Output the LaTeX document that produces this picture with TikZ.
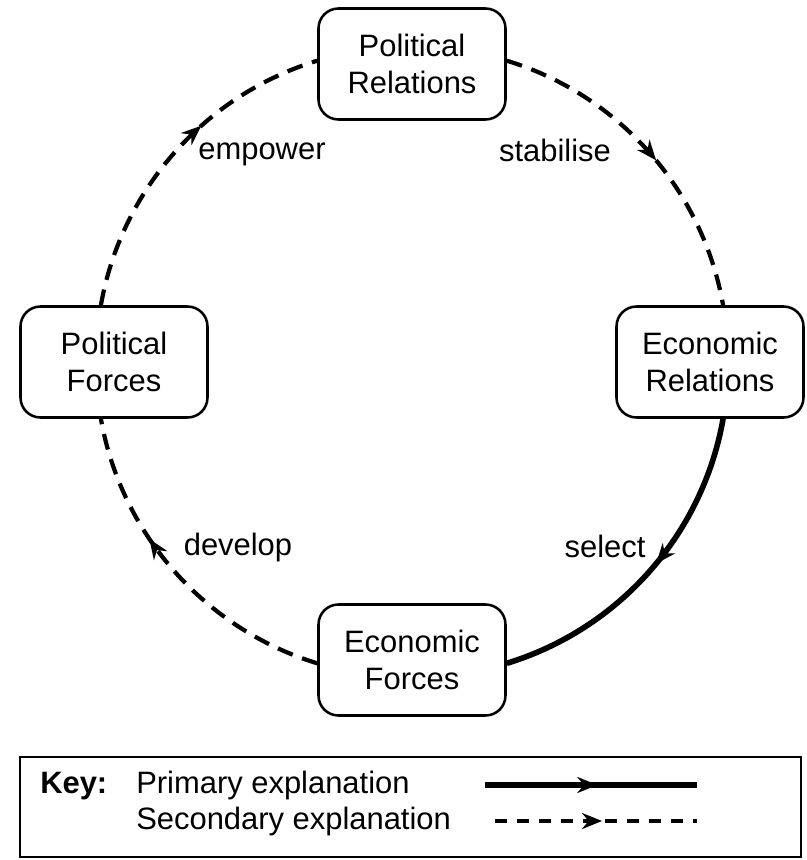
\documentclass[tikz,border=0pt]{standalone}
\usepackage{fontspec}
\setmainfont{Liberation Sans}
\usepackage{tikz}
\usetikzlibrary{arrows.meta,decorations.markings}

\tikzset{
  box/.style={draw, line width=1.8pt, rounded corners=0.5cm, minimum width=4.675cm,
    minimum height=2.775cm, align=center, font=\fontsize{22}{26.3}\selectfont},
  lbl/.style={inner sep=0pt, font=\fontsize{22}{26.3}\selectfont},
  primary/.style={line width=4pt},
  secondary/.style={line width=3pt, dash pattern=on 0.4cm off 0.25cm},
  mid arrow/.style={postaction={decorate, solid, decoration={markings,
    mark=at position #1 with {\arrow{Stealth[length=5mm, width=4mm]}}}}}
}

\begin{document}
\begin{tikzpicture}
            \useasboundingbox (-10.3,-12.45) rectangle (9.875,9.05);

            \node[box] (PR) at (0,7.45) {Political\\Relations};
            \node[box] (ER) at (7.45,0) {Economic\\Relations};
            \node[box] (EF) at (0,-7.45) {Economic\\Forces};
            \node[box] (PF) at (-7.45,0) {Political\\Forces};

            \draw[secondary, mid arrow=0.53] (PR.2) to[out=-17, in=100, looseness=0.92] (ER.77);
            \draw[primary, mid arrow=0.47] (ER.-77) to[out=-100, in=17, looseness=0.92] (EF.-2);
            \draw[secondary, mid arrow=0.62] (EF.182) to[out=163, in=-80, looseness=0.92] (PF.-103);
            \draw[secondary, mid arrow=0.61] (PF.103) to[out=80, in=197, looseness=0.92] (PR.178);

            \node[lbl, anchor=base] (stab) at (3.575,5.0) {stabilise};
            \node[lbl, anchor=base] (sel) at (4.825,-4.875) {select};
            \node[lbl, anchor=base] (dev) at (-4.35,-4.825) {develop};
            \node[lbl, anchor=base] (emp) at (-3.75,5.05) {empower};

            \draw[line width=1.4pt] (-9.8,-9.875) rectangle (9.725,-12.375);
            \node[lbl, anchor=base west] (keyhd) at (-9.3,-10.775) {\textbf{Key:}};
            \node[lbl, anchor=base west] (prim) at (-6.9,-10.775) {Primary explanation};
            \node[lbl, anchor=base west] (seco) at (-6.9,-11.675) {Secondary explanation};

            \coordinate (pa) at (1.825,-10.575);
            \coordinate (pb) at (7.125,-10.575);
            \coordinate (sa) at (2.075,-11.475);
            \coordinate (sb) at (7.125,-11.475);
            \draw[primary, mid arrow=0.53] (pa) -- (pb);
            \draw[secondary, line width=2.4pt, dash pattern=on 0.3cm off 0.25cm, mid arrow=0.53] (sa) -- (sb);
        \end{tikzpicture}
\end{document}
